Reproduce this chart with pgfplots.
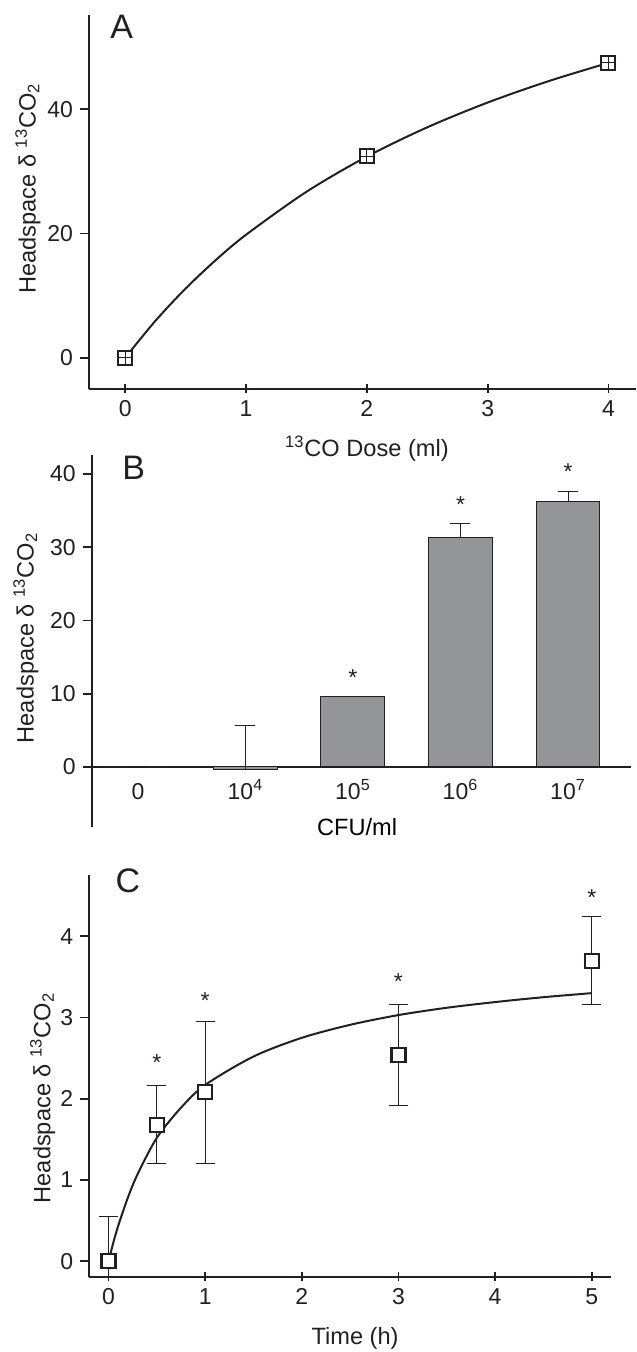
\documentclass[border=0pt]{standalone}
\usepackage{fontspec}
\setmainfont{Liberation Sans}
\usepackage{pgfplots}
\pgfplotsset{compat=1.18}
\definecolor{ink}{HTML}{231F20}
\definecolor{barfill}{HTML}{939598}
\pgfplotsset{
  myax/.style={
    scale only axis,
    axis y line=left,
    tick align=outside,
    major tick length=4.5pt,
    tick style={line width=0.9pt, ink},
    tick label style={font=\fontsize{11.5}{13}\selectfont, text=ink},
    label style={font=\fontsize{11.8}{14}\selectfont, text=ink},
    /pgf/number format/assume math mode=true,
    anchor=south west,
    ylabel={Headspace δ \textsuperscript{13}CO\textsubscript{2}},
    minor tick num=0,
    clip mode=individual,
  },
  noarrows/.style={
    axis line style={-, line width=1pt, ink},
    every outer x axis line/.append style={-},
    every inner x axis line/.append style={-},
    every outer y axis line/.append style={-},
  },
}
\tikzset{
  letter/.style={font=\fontsize{17}{19}\selectfont, text=ink},
  starnode/.style={font=\fontsize{11.5}{13}\selectfont, text=ink},
}
\begin{document}
\begin{tikzpicture}
\path[use as bounding box] (0,0) rectangle (318pt,676pt);
% ---------- Panel A ----------
\begin{axis}[myax, axis x line=bottom, noarrows,
  at={(44.5pt,481.5pt)}, width=273.5pt, height=187pt,
  xmin=-0.30, xmax=4.228, ymin=-5.04, ymax=55.19,
  xtick={0,1,2,3,4}, ytick={0,20,40},
  xlabel={\textsuperscript{13}CO Dose (ml)},
  xlabel style={at={(axis description cs:0.508,-0.160)}, anchor=center},
  ylabel style={at={(axis description cs:-0.1115,0.536)}, anchor=center},
]
\addplot[smooth, line width=1pt, ink, no marks] coordinates {
(0,0) (0.25,5.94) (0.5,11.14) (0.75,15.73) (1,19.80) (1.5,26.72) (2,32.39)
(2.5,37.10) (3,41.09) (3.5,44.51) (4,47.48)};
\addplot[only marks, mark=square*, mark size=3.5pt,
  mark options={line width=1pt, draw=ink, fill=white}] coordinates {(0,0) (2,32.4) (4,47.5)};
\addplot[only marks, mark=+, mark size=3.5pt,
  mark options={line width=0.5pt, ink}] coordinates {(0,0) (2,32.4) (4,47.5)};
\node[letter] at (axis description cs:0.060,0.968) {A};
\end{axis}
% ---------- Panel B ----------
\begin{axis}[myax, axis x line=middle, noarrows, hide obscured y ticks=false,
  at={(45.85pt,262.65pt)}, width=269.65pt, height=185.85pt,
  xmin=-0.43, xmax=4.586, ymin=-8.15, ymax=42.6,
  ytick={0,10,20,30,40}, xtick={0,1,2,3,4},
  xticklabels={0,10\textsuperscript{4},10\textsuperscript{5},10\textsuperscript{6},10\textsuperscript{7}},
  x tick style={draw=none},
  xticklabel style={anchor=base, yshift=-14pt},
  xlabel={CFU/ml},
  xlabel style={at={(axis description cs:0.492,0)}, anchor=center, font=\fontsize{11.8}{14}\selectfont},
  ylabel style={at={(axis description cs:-0.122,0.508)}, anchor=center},
]
\addplot[ybar, bar width=0.595, bar shift=0pt, fill=barfill, draw=ink, line width=0.5pt,
  error bars/.cd, y dir=plus, y explicit,
  error bar style={line width=0.5pt, ink},
  error mark options={rotate=90, mark size=5pt, line width=0.5pt, ink}]
  coordinates {(0,0) +- (0,0) (1,-0.3) +- (0,5.94) (2,9.6) +- (0,0) (3,31.4) +- (0,1.8) (4,36.2) +- (0,1.4)};
\node[starnode] at (axis cs:2,12.2) {*};
\node[starnode] at (axis cs:3,35.8) {*};
\node[starnode] at (axis cs:4,40.3) {*};
\node[letter] at (axis description cs:0.078,0.965) {B};
\end{axis}
% ---------- Panel C ----------
\begin{axis}[myax, axis x line=bottom, noarrows,
  at={(44.6pt,37.65pt)}, width=260.65pt, height=200.85pt,
  xmin=-0.2, xmax=5.194, ymin=-0.19, ymax=4.754,
  xtick={0,1,2,3,4,5}, ytick={0,1,2,3,4},
  xlabel={Time (h)},
  xlabel style={at={(axis description cs:0.51,-0.1526)}, anchor=center},
  ylabel style={at={(axis description cs:-0.0894,0.445)}, anchor=center},
]
\addplot[smooth, line width=1pt, ink, no marks] coordinates {
(0,0) (0.05,0.231) (0.1,0.436) (0.2,0.783) (0.3,1.07) (0.5,1.52) (0.75,1.89)
(1,2.17) (1.5,2.52) (2,2.75) (2.5,2.91) (3,3.03) (3.5,3.12) (4,3.19) (4.5,3.25) (5,3.30)};
\addplot[only marks, mark=square*, mark size=3.5pt,
  mark options={fill=white, draw=ink, line width=1.1pt},
  error bars/.cd, y dir=both, y explicit,
  error bar style={line width=0.5pt, ink},
  error mark options={rotate=90, mark size=4.75pt, line width=0.5pt, ink}]
  coordinates {(0,0) +- (0,0.55) (0.5,1.68) +- (0,0.48) (1,2.08) +- (0,0.875)
  (3,2.535) +- (0,0.62) (5,3.70) +- (0,0.54)};
\node[starnode] at (axis cs:0.5,2.45) {*};
\node[starnode] at (axis cs:1,3.21) {*};
\node[starnode] at (axis cs:3,3.44) {*};
\node[starnode] at (axis cs:5,4.48) {*};
\node[letter] at (axis description cs:0.074,0.985) {C};
\end{axis}
\end{tikzpicture}
\end{document}
